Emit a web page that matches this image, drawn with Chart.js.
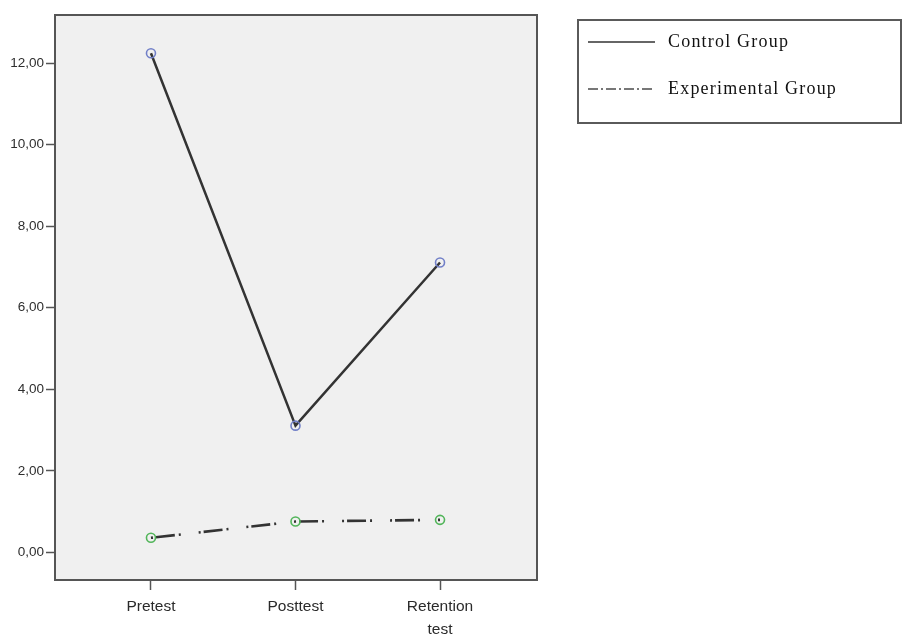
<!DOCTYPE html>
<html>
<head>
<meta charset="utf-8">
<script src="https://cdn.jsdelivr.net/npm/chart.js@4.4.1/dist/chart.umd.min.js"></script>
<style>
  html, body { margin: 0; padding: 0; background: #ffffff; }
  #wrap { width: 902px; height: 639px; position: relative; }
</style>
</head>
<body>
<div id="wrap"><canvas id="c" width="902" height="639"></canvas></div>
<script>
// Test occasions (x categories) and the group means at each
const categories = [['Pretest'], ['Posttest'], ['Retention', 'test']];
const seriesNames = ['Control Group', 'Experimental Group'];
const controlMeans = [12.24, 3.11, 7.11];
const experimentalMeans = [0.36, 0.76, 0.80];
const yTickValues = [0, 2, 4, 6, 8, 10, 12];

const DASH_DOT = [2, 3, 19, 4, 2, 18];

const toPoints = vals => vals.map((v, i) => ({ x: i, y: v }));

// Plot background and frame
const framePlugin = {
  id: 'frame',
  beforeDraw(chart) {
    const { ctx, chartArea: a } = chart;
    ctx.save();
    ctx.fillStyle = '#f0f0f0';
    ctx.fillRect(a.left, a.top, a.right - a.left, a.bottom - a.top);
    ctx.restore();
  },
  afterDraw(chart) {
    const { ctx, chartArea: a } = chart;
    ctx.save();
    ctx.strokeStyle = '#555555';
    ctx.lineWidth = 2;
    ctx.strokeRect(a.left, a.top, a.right - a.left, a.bottom - a.top);
    ctx.restore();
  }
};

// Boxed legend to the right of the plot
const legendBoxPlugin = {
  id: 'legendBox',
  afterDraw(chart) {
    const ctx = chart.ctx;
    const box = { x: 578, y: 20, w: 323, h: 103 };
    ctx.save();
    ctx.strokeStyle = '#5a5a5a';
    ctx.lineWidth = 2;
    ctx.strokeRect(box.x, box.y, box.w, box.h);
    const rows = [
      { y: 42, dash: [], color: '#333333', width: 1.6 },
      { y: 89, dash: [10, 3, 2, 3], color: '#777777', width: 1.8 }
    ];
    chart.data.datasets.forEach((ds, i) => {
      const r = rows[i];
      ctx.beginPath();
      ctx.setLineDash(r.dash);
      ctx.strokeStyle = r.color;
      ctx.lineWidth = r.width;
      ctx.moveTo(588, r.y);
      ctx.lineTo(655, r.y);
      ctx.stroke();
      ctx.setLineDash([]);
      ctx.fillStyle = '#111111';
      ctx.font = '18px "Liberation Serif", "Times New Roman", serif';
      ctx.letterSpacing = '1.2px';
      ctx.textBaseline = 'middle';
      ctx.textAlign = 'left';
      ctx.fillText(ds.label, 668, r.y);
    });
    ctx.restore();
  }
};

new Chart(document.getElementById('c'), {
  type: 'line',
  data: {
    datasets: [
      {
        label: seriesNames[0],
        data: toPoints(controlMeans),
        borderColor: '#333333',
        borderWidth: 2.5,
        pointRadius: 4.5,
        pointBorderWidth: 1.6,
        pointBorderColor: '#7280c8',
        pointBackgroundColor: 'rgba(0,0,0,0)',
        tension: 0
      },
      {
        label: seriesNames[1],
        data: toPoints(experimentalMeans),
        borderColor: '#333333',
        borderWidth: 2.6,
        borderDash: DASH_DOT,
        pointRadius: 4.5,
        pointBorderWidth: 1.6,
        pointBorderColor: '#52b55a',
        pointBackgroundColor: 'rgba(0,0,0,0)',
        tension: 0
      }
    ]
  },
  options: {
    responsive: false,
    animation: false,
    layout: { padding: { left: 0, top: 15, right: 365, bottom: 0 } },
    plugins: {
      legend: { display: false },
      tooltip: { enabled: false }
    },
    scales: {
      x: {
        type: 'linear',
        min: -0.664,
        max: 2.671,
        afterFit(scale) { scale.height = 59; },
        afterBuildTicks(scale) {
          scale.ticks = categories.map((_, i) => ({ value: i }));
        },
        grid: {
          drawOnChartArea: false,
          drawTicks: true,
          tickLength: 10,
          tickWidth: 1.5,
          tickColor: '#555555'
        },
        border: { display: false },
        ticks: {
          autoSkip: false,
          maxRotation: 0,
          padding: 5,
          color: '#2a2a2a',
          font: { family: '"Liberation Sans", Arial, sans-serif', size: 15.5, lineHeight: 1.5 },
          callback: (v) => categories[v]
        }
      },
      y: {
        min: -0.674,
        max: 13.177,
        afterFit(scale) { scale.width = 55; },
        afterBuildTicks(scale) {
          scale.ticks = yTickValues.map(v => ({ value: v }));
        },
        grid: {
          drawOnChartArea: false,
          drawTicks: true,
          tickLength: 9,
          tickWidth: 1.5,
          tickColor: '#555555'
        },
        border: { display: false },
        ticks: {
          padding: 2,
          color: '#2e2e2e',
          font: { family: '"Liberation Sans", Arial, sans-serif', size: 13.5 },
          callback: (v) => v.toFixed(2).replace('.', ',')
        }
      }
    }
  },
  plugins: [framePlugin, legendBoxPlugin]
});
</script>
</body>
</html>
